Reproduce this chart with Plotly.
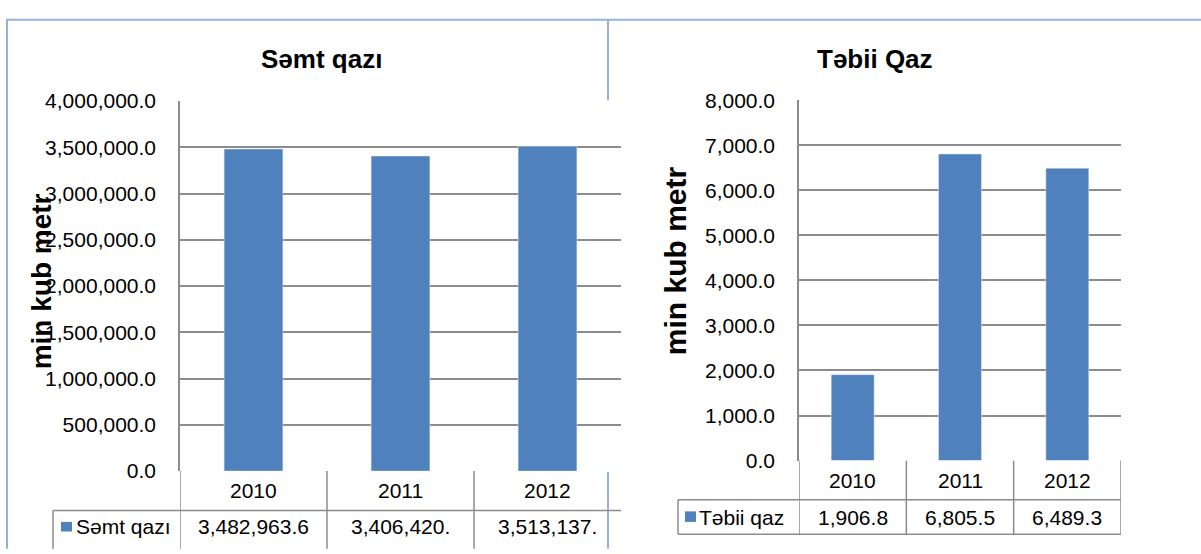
import plotly.graph_objects as go

W, H = 1201, 554

# ---- data ----
years = ["2010", "2011", "2012"]
semt_values = [3482963.6, 3406420.0, 3513137.0]
semt_cells = ["3,482,963.6", "3,406,420.", "3,513,137."]
tebii_values = [1906.8, 6805.5, 6489.3]
tebii_cells = ["1,906.8", "6,805.5", "6,489.3"]
left_title = "Səmt qazı"
right_title = "Təbii Qaz"
y_title = "min kub metr"
left_series = "Səmt qazı"
right_series = "Təbii qaz"

BAR = "#4F81BD"
GRID = "#8c8c8c"
FRAME = "#95B3D7"
FONT = "Liberation Sans, Arial, sans-serif"


def fx(x):
    return x / W


def fy(y):
    return 1 - y / H


fig = go.Figure()
fig.add_trace(go.Bar(x=years, y=semt_values, marker_color=BAR, xaxis="x", yaxis="y",
                     name=left_series, showlegend=False))
fig.add_trace(go.Bar(x=years, y=tebii_values, marker_color=BAR, xaxis="x2", yaxis="y2",
                     name=right_series, showlegend=False))

common_x = dict(type="category", showticklabels=False, showgrid=False, zeroline=False,
                showline=False, range=[-0.5, 2.5], fixedrange=True)
common_y = dict(showgrid=True, gridcolor=GRID, gridwidth=1.5, zeroline=False,
                showline=True, linecolor=GRID, linewidth=1.5, tickformat=",.1f",
                ticks="", ticklabelstandoff=18,
                tickfont=dict(family=FONT, size=21, color="#000"))

L_LEFT, L_RIGHT, L_TOP, L_BOT = 180, 621, 93, 479
R_LEFT, R_RIGHT, R_TOP, R_BOT = 799, 1121, 92, 468

fig.update_layout(
    width=W, height=H, margin=dict(l=0, r=0, t=0, b=0),
    paper_bgcolor="white", plot_bgcolor="white", bargap=0.6,
    xaxis=dict(domain=[fx(L_LEFT), fx(L_RIGHT)], anchor="y", **common_x),
    yaxis=dict(domain=[fy(L_BOT), fy(L_TOP)], anchor="x", range=[0, 4000000], dtick=500000, **common_y),
    xaxis2=dict(domain=[fx(R_LEFT), fx(R_RIGHT)], anchor="y2", **common_x),
    yaxis2=dict(domain=[fy(R_BOT), fy(R_TOP)], anchor="x2", range=[0, 8000], dtick=1000, **common_y),
)

shapes = []
annotations = []


def line(x0, y0, x1, y1, xref="paper", yref="paper", color=GRID, width=1.5):
    shapes.append(dict(type="line", x0=x0, y0=y0, x1=x1, y1=y1, xref=xref, yref=yref,
                       line=dict(color=color, width=width), layer="above"))


def text(x, y, s, xref="paper", size=21, xanchor="center", angle=0):
    annotations.append(dict(x=x, y=y, xref=xref, yref="paper", text=s, showarrow=False,
                            xanchor=xanchor, yanchor="middle", textangle=angle,
                            font=dict(family=FONT, size=size, color="#000")))


# frame lines (blue)
line(fx(7), fy(8), fx(7), fy(560), color=FRAME, width=2)
line(fx(6), fy(8), fx(1205), fy(8), color=FRAME, width=2)
line(fx(608), fy(8), fx(608), fy(92), color=FRAME, width=2)
line(fx(608), fy(480), fx(608), fy(560), color=FRAME, width=2)

# ---- left data table ----
L_ROW1, L_ROW2 = 520, 560
line(-0.5, fy(L_ROW1), 2.5, fy(L_ROW1), xref="x")
line(fx(53), fy(L_ROW1), fx(L_LEFT), fy(L_ROW1))
line(fx(53), fy(L_ROW1), fx(53), fy(L_ROW2))
for b in [-0.5, 0.5, 1.5]:
    line(b, fy(L_BOT), b, fy(L_ROW2), xref="x")
for i, yr in enumerate(years):
    text(i, fy(499.5), yr, xref="x")
    text(i, fy(537), semt_cells[i], xref="x")
shapes.append(dict(type="rect", x0=fx(61), x1=fx(72), y0=fy(532), y1=fy(542), xref="paper", yref="paper",
                   fillcolor=BAR, line=dict(width=0), layer="above"))
text(fx(74), fy(537), left_series, xanchor="left")

# ---- right data table ----
R_ROW1, R_ROW2 = 509, 545
for yy in [R_ROW1, R_ROW2]:
    line(-0.5, fy(yy), 2.5, fy(yy), xref="x2")
    line(fx(678), fy(yy), fx(R_LEFT), fy(yy))
line(fx(678), fy(R_ROW1), fx(678), fy(R_ROW2))
for b in [-0.5, 0.5, 1.5, 2.5]:
    line(b, fy(R_BOT), b, fy(R_ROW2), xref="x2")
for i, yr in enumerate(years):
    text(i, fy(488.5), yr, xref="x2")
    text(i, fy(527), tebii_cells[i], xref="x2")
shapes.append(dict(type="rect", x0=fx(685), x1=fx(696), y0=fy(521), y1=fy(532), xref="paper", yref="paper",
                   fillcolor=BAR, line=dict(width=0), layer="above"))
text(fx(697), fy(527), right_series, xanchor="left")

# ---- titles ----
text(fx(322), fy(49), f"<b>{left_title}</b>", size=26)
text(fx(875), fy(49), f"<b>{right_title}</b>", size=26)
text(fx(41), fy(281), f"<b>{y_title}</b>", size=28, angle=-90)
text(fx(675), fy(260), f"<b>{y_title}</b>", size=30, angle=-90)

fig.update_layout(shapes=shapes, annotations=annotations)
fig.write_html("out.html", config={"displayModeBar": False},
               post_script="document.body.style.margin='0';")
